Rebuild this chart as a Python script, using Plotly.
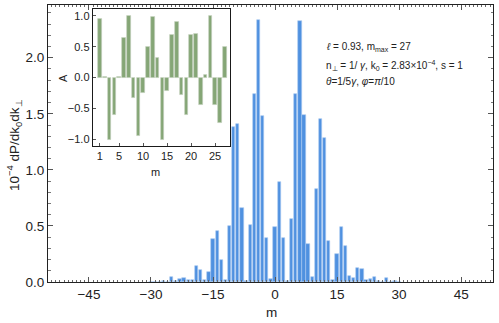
import plotly.graph_objects as go

# Main histogram data
m_values = list(range(-30, 31))
power = [0.0, 0.0, 0.0, 0.006, 0.004, 0.045, 0.005, 0.025, 0.04, 0.018, 0.02,
         0.142, 0.108, 0.015, 0.09, 0.385, 0.455, 0.195, 0.02, 0.5, 1.385,
         1.41, 0.66, 0.008, 0.505, 1.675, 2.34, 1.48, 0.39, 0.025, 0.49,
         0.893, 0.39, 0.005, 0.558, 1.675, 2.33, 1.485, 0.336, 0.045, 0.83,
         1.454, 1.282, 0.368, 0.02, 0.249, 0.487, 0.323, 0.058, 0.032, 0.123,
         0.115, 0.017, 0.027, 0.042, 0.012, 0.003, 0.033, 0.003, 0.012, 0.0]

# Inset data
inset_m = list(range(1, 28))
amplitude = [0.955, 0.005, -1.0, -0.61, 0.005, 0.645, 1.0, -0.32, -0.94, -0.25,
             0.5, 0.98, 0.317, -1.0, -0.21, 0.69, 0.905, -0.28, -0.605, 0.69,
             0.715, -0.44, 0.04, 1.0, -0.44, -0.74, 0.5]

main_xticks = [-45, -30, -15, 0, 15, 30, 45]
main_yticks = [0.0, 0.5, 1.0, 1.5, 2.0]
inset_xticks = [1, 5, 10, 15, 20, 25]
inset_yticks = [-1.0, -0.5, 0.0, 0.5, 1.0]

FONT = "Liberation Sans"

fig = go.Figure()
fig.add_trace(go.Bar(
    x=m_values, y=power, width=0.8,
    marker=dict(color="#4f91e0", line=dict(color="#a9caf0", width=0.6)),
    xaxis="x", yaxis="y", showlegend=False))
fig.add_trace(go.Bar(
    x=inset_m, y=amplitude, width=0.76,
    marker=dict(color="#85a676", line=dict(color="#c4d0be", width=0.6)),
    xaxis="x2", yaxis="y2", showlegend=False))

axis_common = dict(showgrid=False, zeroline=False, showline=True,
                   linecolor="#222222", linewidth=1, mirror="allticks",
                   ticks="inside", tickcolor="#555555")

fig.update_layout(
    width=499, height=323,
    margin=dict(l=48, r=6, t=5, b=41),
    paper_bgcolor="white", plot_bgcolor="white",
    font=dict(family=FONT, color="#222222"),
    bargap=0,
    xaxis=dict(range=[-54.9, 52.7], tickvals=main_xticks, ticklen=5,
               tickfont=dict(size=13.5),
               minor=dict(dtick=1, tick0=0, ticklen=2, ticks="inside", tickcolor="#666666"),
               **axis_common),
    yaxis=dict(range=[0, 2.47], tickvals=main_yticks, ticktext=["0.0", "0.5", "1.0", "1.5", "2.0"],
               ticklen=5, tickfont=dict(size=13.5),
               minor=dict(dtick=0.1, tick0=0, ticklen=2.5, ticks="inside", tickcolor="#777777"),
               **axis_common),
    xaxis2=dict(domain=[0.101, 0.409], anchor="y2", range=[-0.45, 28.1],
                tickvals=inset_xticks, ticklen=3, tickfont=dict(size=11),
                showgrid=False, zeroline=False, showline=True, linecolor="#1a1a1a",
                linewidth=1.4, mirror=True, ticks="inside", tickcolor="#555555"),
    yaxis2=dict(domain=[0.491, 0.986], anchor="x2", range=[-1.106, 1.112],
                tickvals=inset_yticks, ticktext=["\u22121.0", "\u22120.5", "0.0", "0.5", "1.0"],
                ticklen=3, tickfont=dict(size=11),
                showgrid=False, zeroline=False, showline=True, linecolor="#1a1a1a",
                linewidth=1.4, mirror=True, ticks="inside", tickcolor="#555555"),
)

annotations = [
    dict(text="10<sup>\u22124</sup> dP/dk<sub>0</sub>dk<sub>\u22a5</sub>", x=14, y=145,
         textangle=-90, font=dict(size=13.5)),
    dict(text="m", x=271, y=312, font=dict(size=13.5)),
    dict(text="A", x=63, y=78, textangle=-90, font=dict(size=11)),
    dict(text="m", x=155, y=172, font=dict(size=11)),
    dict(text="<i>\u2113</i> = 0.93, m<sub>max</sub> = 27", x=324, y=47, xanchor="left", font=dict(size=10)),
    dict(text="n<sub>\u22a5</sub> = 1/ <i>\u03b3</i>, k<sub>0</sub> = 2.83\u00d710<sup>\u22124</sup>, s = 1",
         x=324, y=65, xanchor="left", font=dict(size=10)),
    dict(text="<i>\u03b8</i>=1/5<i>\u03b3</i>, <i>\u03c6</i>=<i>\u03c0</i>/10", x=324, y=82,
         xanchor="left", font=dict(size=10)),
]
W, H = 499, 323
L, R, T, B = 48, 6, 5, 41
for a in annotations:
    px, py = a.pop("x"), a.pop("y")
    a.setdefault("xanchor", "center")
    fig.add_annotation(x=(px - L) / (W - L - R), y=(H - B - py) / (H - T - B),
                       xref="paper", yref="paper",
                       yanchor="middle", showarrow=False, **a)

fig.write_html("out.html", config={"displayModeBar": False},
               post_script="document.body.style.margin='0';document.body.style.overflow='hidden';")
